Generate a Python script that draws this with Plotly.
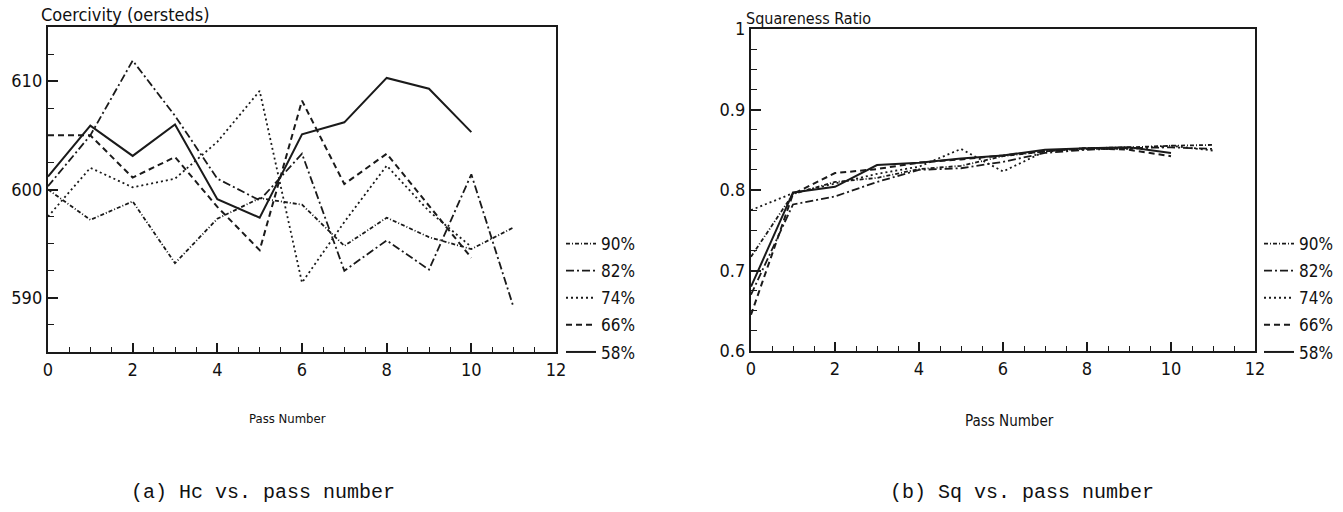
import plotly.graph_objects as go

# ---------------- data ----------------
series_names = ["90%", "82%", "74%", "66%", "58%"]

# (a) Coercivity (oersteds) vs pass number
hc_90 = [600.0, 597.2, 598.9, 593.2, 597.3, 599.2, 598.6, 594.8, 597.4, 595.6, 594.5, 596.5]
hc_82 = [600.3, 605.0, 611.9, 606.8, 601.0, 599.0, 603.3, 592.5, 595.3, 592.6, 601.4, 589.1]
hc_74 = [597.5, 602.0, 600.2, 601.0, 604.4, 609.1, 591.4, 597.0, 602.2, 598.0, 594.7]
hc_66 = [605.0, 605.0, 601.1, 603.0, 598.4, 594.4, 608.2, 600.5, 603.3, 598.5, 593.7]
hc_58 = [601.2, 605.9, 603.1, 606.0, 599.1, 597.4, 605.1, 606.2, 610.3, 609.3, 605.3]

# (b) Squareness ratio vs pass number
sq_90 = [0.717, 0.795, 0.810, 0.815, 0.826, 0.830, 0.842, 0.848, 0.852, 0.853, 0.855, 0.856]
sq_82 = [0.670, 0.782, 0.792, 0.810, 0.825, 0.827, 0.835, 0.846, 0.850, 0.852, 0.853, 0.851]
sq_74 = [0.775, 0.796, 0.808, 0.820, 0.829, 0.851, 0.823, 0.848, 0.851, 0.851, 0.855, 0.849]
sq_66 = [0.645, 0.795, 0.821, 0.826, 0.834, 0.838, 0.843, 0.848, 0.852, 0.850, 0.842]
sq_58 = [0.680, 0.797, 0.804, 0.831, 0.834, 0.839, 0.843, 0.850, 0.852, 0.853, 0.846]

hc_series = [hc_90, hc_82, hc_74, hc_66, hc_58]
sq_series = [sq_90, sq_82, sq_74, sq_66, sq_58]

# ---------------- styling ----------------
W, H = 1343, 512
ink = "#1a1a1a"
dashes = ["4px,2px,1px,2px", "8px,3px,2px,3px", "2px,3px", "6px,4px", "solid"]
widths = [1.8, 1.8, 1.8, 2.0, 2.0]
tick_font = dict(family="DejaVu Sans Condensed, DejaVu Sans, sans-serif", size=18, color="#111")
leg_font = dict(family="DejaVu Sans Condensed, DejaVu Sans, sans-serif", size=17, color="#111")

fig = go.Figure()

for name, ys, d, w in zip(series_names, hc_series, dashes, widths):
    fig.add_trace(go.Scatter(
        x=list(range(len(ys))), y=ys, mode="lines", name=name,
        line=dict(color=ink, width=w, dash=d),
        xaxis="x", yaxis="y", legend="legend", legendgroup="a" + name,
    ))

for name, ys, d, w in zip(series_names, sq_series, dashes, widths):
    fig.add_trace(go.Scatter(
        x=list(range(len(ys))), y=ys, mode="lines", name=name,
        line=dict(color=ink, width=w, dash=d),
        xaxis="x2", yaxis="y2", legend="legend2", legendgroup="b" + name,
    ))


def px_x(p):
    return p / W


def px_y(p):
    return 1 - p / H


def xaxis_cfg(domain, anchor):
    return dict(
        domain=domain, anchor=anchor, range=[0, 12], dtick=2, tick0=0,
        showgrid=False, zeroline=False, showline=True, linecolor=ink, linewidth=2.4,
        mirror=True, ticks="inside", ticklen=9, tickwidth=1.6, tickcolor=ink,
        minor=dict(dtick=0.5, tick0=0, ticks="inside", ticklen=5, tickwidth=1.4, tickcolor=ink),
        tickfont=tick_font, fixedrange=True, automargin=False,
    )


def yaxis_cfg(domain, anchor, rng, dtick, minor_dtick, tick0):
    return dict(
        domain=domain, anchor=anchor, range=rng, dtick=dtick, tick0=tick0,
        showgrid=False, zeroline=False, showline=True, linecolor=ink, linewidth=2.4,
        mirror=True, ticks="inside", ticklen=10, tickwidth=1.6, tickcolor=ink,
        minor=dict(dtick=minor_dtick, tick0=rng[0], ticks="inside", ticklen=6, tickwidth=1.4, tickcolor=ink),
        tickfont=tick_font, fixedrange=True, automargin=False,
    )


leg_common = dict(
    xanchor="left", yanchor="top", xref="container", yref="container",
    font=leg_font, bgcolor="rgba(0,0,0,0)", borderwidth=0,
    tracegroupgap=2, traceorder="grouped", itemwidth=30,
)

fig.update_layout(
    width=W, height=H,
    margin=dict(l=0, r=0, t=0, b=0, autoexpand=False),
    paper_bgcolor="white", plot_bgcolor="white",
    xaxis=xaxis_cfg([px_x(48), px_x(556)], "y"),
    yaxis=yaxis_cfg([px_y(352), px_y(27)], "x", [585, 615], 10, 2.5, 590),
    xaxis2=xaxis_cfg([px_x(751), px_x(1255)], "y2"),
    yaxis2=yaxis_cfg([px_y(351), px_y(29)], "x2", [0.6, 1.0], 0.1, 0.025, 0.6),
    legend=dict(x=px_x(561), y=px_y(226), **leg_common),
    legend2=dict(x=px_x(1259), y=px_y(226), **leg_common),
    showlegend=True,
)

label_font = dict(family="DejaVu Sans Condensed, DejaVu Sans, sans-serif", color="#111")
cap_font = dict(family="Liberation Mono, DejaVu Sans Mono, monospace", size=20, color="#111")

annotations = [
    dict(text="Coercivity (oersteds)", x=px_x(39), y=px_y(14), xanchor="left", yanchor="middle",
         font=dict(size=18, **label_font)),
    dict(text="Squareness Ratio", x=px_x(744), y=px_y(18), xanchor="left", yanchor="middle",
         font=dict(size=16, **label_font)),
    dict(text="Pass Number", x=px_x(287), y=px_y(418), xanchor="center", yanchor="middle",
         font=dict(size=13, **label_font)),
    dict(text="Pass Number", x=px_x(1009), y=px_y(421), xanchor="center", yanchor="middle",
         font=dict(size=15, **label_font)),
    dict(text="(a) Hc vs. pass number", x=px_x(263), y=px_y(492), xanchor="center", yanchor="middle",
         font=cap_font),
    dict(text="(b) Sq vs. pass number", x=px_x(1022), y=px_y(492), xanchor="center", yanchor="middle",
         font=cap_font),
]
for a in annotations:
    a.update(xref="paper", yref="paper", showarrow=False)
fig.update_layout(annotations=annotations)

fig.write_html("out.html")
